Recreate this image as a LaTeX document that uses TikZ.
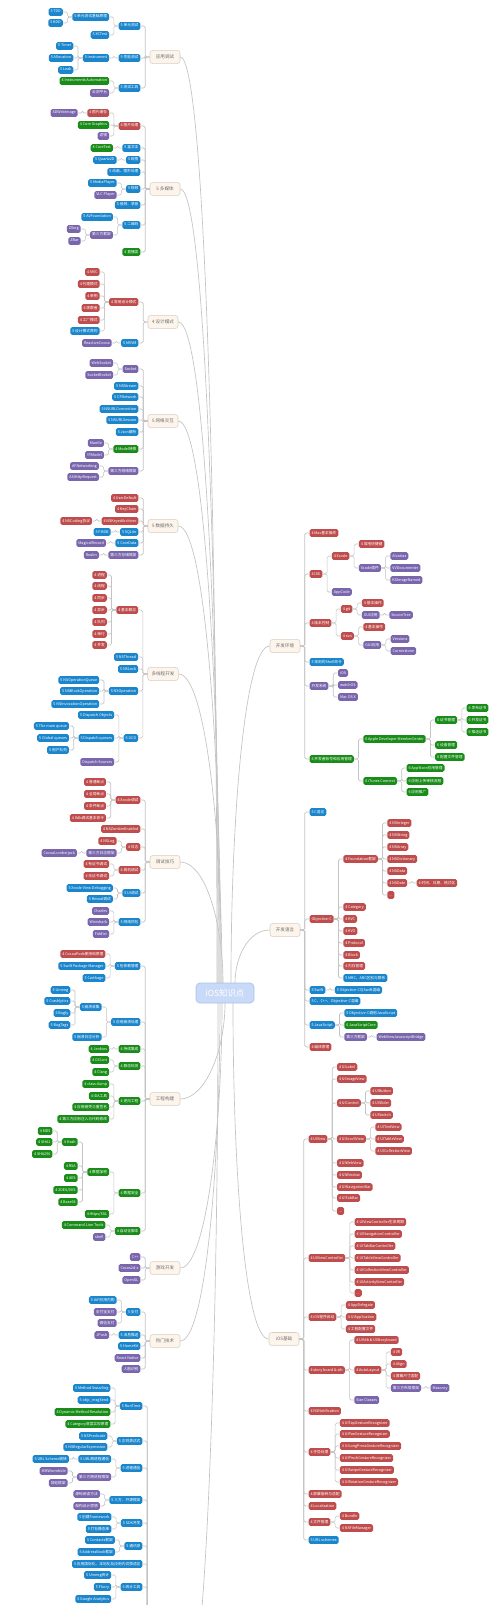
\documentclass[tikz,border=0pt]{standalone}
\usepackage{fontspec}
\setmainfont{Noto Sans CJK SC}
\definecolor{cB}{HTML}{1C86CC}
\definecolor{cR}{HTML}{BF4D4D}
\definecolor{cG}{HTML}{1A8C1A}
\definecolor{cP}{HTML}{7A66AD}
\definecolor{cBei}{HTML}{FDF5EC}
\definecolor{cBeiD}{HTML}{D9CFC4}
\definecolor{cTxt}{HTML}{6B6B6B}
\definecolor{cCtr}{HTML}{C8DAF8}
\definecolor{cCtrD}{HTML}{A9C3EE}
\definecolor{cLine}{HTML}{C4C4C4}
\tikzset{
 bx/.style={rectangle, rounded corners=1.2pt, inner xsep=1.5pt, inner ysep=1.5pt, text height=2.1pt, text depth=0.6pt, font=\fontsize{2.8}{3}\selectfont, text=white},
 B/.style={bx, fill=cB},
 R/.style={bx, fill=cR},
 G/.style={bx, fill=cG},
 P/.style={bx, fill=cP},
 lone/.style={rectangle, rounded corners=2pt, fill=cBei, draw=cBeiD, line width=0.4pt, text=cTxt, font=\fontsize{3.4}{4}\selectfont, minimum width=22.5pt, minimum height=8.8pt, inner xsep=3pt},
 ctr/.style={rectangle, rounded corners=3pt, fill=cCtr, draw=cCtrD, line width=0.5pt, text=white, font=\fontsize{6.3}{7}\selectfont, minimum width=43.5pt, minimum height=15pt},
 conn/.style={draw=cLine, line width=0.45pt, rounded corners=1.2pt},
 mc/.style={draw=cLine, line width=0.5pt},
 ghost/.style={rectangle, inner sep=0pt, minimum size=0pt}
}
\newcommand\Lk[5]{%
 \path (#3.west) ++(-9,0) coordinate (tmp);
 \node[#2,anchor=east] (#1) at (tmp |- 0,#4) {#5};
 \draw[conn] (#3.west) -- ++(-4.5,0) |- (#1.east);}
\newcommand\Rk[5]{%
 \path (#3.east) ++(9,0) coordinate (tmp);
 \node[#2,anchor=west] (#1) at (tmp |- 0,#4) {#5};
 \draw[conn] (#3.east) -- ++(4.5,0) |- (#1.west);}
\begin{document}
\begin{tikzpicture}[x=0.75pt,y=-0.75pt]
\useasboundingbox (0,0) rectangle (500,1605);
\fill[white] (0,0) rectangle (500,1605);
\clip (0,0) rectangle (500,1605);

\node[ctr] (ctr) at (225,993) {iOS知识点};

% ---------- left level 1 ----------
\node[lone] (a) at (165,57) {应用调试};
\node[lone] (b) at (165,189) {5 多媒体};
\node[lone] (c) at (163,322) {4 设计模式};
\node[lone] (d) at (163,421) {5 网络交互};
\node[lone] (e) at (163,526) {5 数据持久};
\node[lone] (f) at (163,674) {多线程开发};
\node[lone] (g) at (165,862) {调试技巧};
\node[lone] (h) at (165,1099) {工程构建};
\node[lone] (i) at (165,1268) {游戏开发};
\node[lone] (j) at (165,1341) {热门技术};
\node[ghost] (k) at (152,1720) {};
\coordinate (kE) at (182,1720);

% ---------- right level 1 ----------
\node[lone] (r) at (285,646) {开发环境};
\node[lone] (s) at (285,930) {开发语言};
\node[lone] (t) at (284,1339) {iOS基础};

% ---------- main curves ----------
\draw[mc] (217,983) .. controls (217,520) and (205,57) .. (a.east);
\draw[mc] (218,983) .. controls (218,586) and (205,189) .. (b.east);
\draw[mc] (219,983) .. controls (219,652) and (205,322) .. (c.east);
\draw[mc] (220,983) .. controls (220,702) and (205,421) .. (d.east);
\draw[mc] (221,983) .. controls (221,754) and (205,526) .. (e.east);
\draw[mc] (222,983) .. controls (222,828) and (205,674) .. (f.east);
\draw[mc] (223,983) .. controls (223,922) and (205,862) .. (g.east);
\draw[mc] (225,1003) .. controls (225,1051) and (205,1099) .. (h.east);
\draw[mc] (222,1003) .. controls (222,1135) and (205,1268) .. (i.east);
\draw[mc] (220,1003) .. controls (220,1172) and (205,1341) .. (j.east);
\draw[mc] (218,1003) .. controls (218,1360) and (205,1720) .. (kE);
\draw[mc] (231,983) .. controls (231,814) and (245,646) .. (r.west);
\draw[mc] (235,983) .. controls (235,956) and (249,930) .. (s.west);
\draw[mc] (233,1003) .. controls (233,1171) and (245,1339) .. (t.west);

% ---------- 应用调试 ----------
\Lk{a1}{B}{a}{26}{5 单元测试}
\Lk{a11}{B}{a1}{17}{5 单元测试基础原理}
\Lk{a111}{B}{a11}{12}{5 TDD}
\Lk{a112}{B}{a11}{23}{5 BDD}
\Lk{a12}{B}{a1}{35}{5 XCTest}
\Lk{a2}{B}{a}{58}{5 性能测试}
\Lk{a21}{B}{a2}{58}{5 Instrument}
\Lk{a211}{B}{a21}{46}{5 Timer}
\Lk{a212}{B}{a21}{58}{5 Allocation}
\Lk{a213}{B}{a21}{70}{5 Leak}
\Lk{a3}{B}{a}{88}{5 测试工具}
\Lk{a31}{G}{a3}{81}{4 Instruments Automation}
\Lk{a32}{P}{a3}{93}{云测平台}

% ---------- 多媒体 ----------
\Lk{b1}{R}{b}{126}{4 图片处理}
\Lk{b11}{R}{b1}{113}{4 图片缓存}
\Lk{b111}{P}{b11}{113}{SDWebImage}
\Lk{b12}{G}{b1}{125}{4 Core Graphics}
\Lk{b13}{P}{b1}{136}{滤镜}
\Lk{b2}{B}{b}{148}{5 富文本}
\Lk{b21}{G}{b2}{148}{4 CoreText}
\Lk{b3}{B}{b}{160}{5 绘图}
\Lk{b31}{B}{b3}{160}{5 Quartz2D}
\Lk{b4}{B}{b}{172}{5 动画、图形处理}
\Lk{b5}{B}{b}{189}{5 视频}
\Lk{b51}{B}{b5}{183}{5 MediaPlayer}
\Lk{b52}{P}{b5}{195}{VLC Player}
\Lk{b6}{B}{b}{205}{5 音频、录音}
\Lk{b7}{B}{b}{225}{5 二维码}
\Lk{b71}{B}{b7}{217}{5 AVFoundation}
\Lk{b72}{P}{b7}{235}{第三方框架}
\Lk{b721}{P}{b72}{229}{ZXing}
\Lk{b722}{P}{b72}{241}{ZBar}
\Lk{b8}{G}{b}{252}{4 直播类}

% ---------- 设计模式 ----------
\Lk{c1}{R}{c}{302}{4 常用设计模式}
\Lk{c11}{R}{c1}{272}{4 MVC}
\Lk{c12}{R}{c1}{284}{4 代理模式}
\Lk{c13}{R}{c1}{296}{4 单例}
\Lk{c14}{R}{c1}{308}{4 观察者}
\Lk{c15}{R}{c1}{320}{4 工厂模式}
\Lk{c16}{B}{c1}{331}{5 设计模式原则}
\Lk{c2}{B}{c}{343}{5 MVVM}
\Lk{c21}{P}{c2}{343}{ReactiveCocoa}

% ---------- 网络交互 ----------
\Lk{d1}{P}{d}{369}{Socket}
\Lk{d11}{P}{d1}{363}{WebSocket}
\Lk{d12}{P}{d1}{375}{SocketRocket}
\Lk{d2}{B}{d}{386}{5 NSStream}
\Lk{d3}{B}{d}{397}{5 CFNetwork}
\Lk{d4}{B}{d}{409}{5 NSURLConnection}
\Lk{d5}{B}{d}{420}{5 NSURLSession}
\Lk{d6}{B}{d}{432}{5 Json解析}
\Lk{d7}{G}{d}{449}{4 Model转换}
\Lk{d71}{P}{d7}{443}{Mantle}
\Lk{d72}{P}{d7}{455}{YYModel}
\Lk{d8}{P}{d}{471}{第三方网络框架}
\Lk{d81}{P}{d8}{466}{AFNetworking}
\Lk{d82}{P}{d8}{477}{ASIHttpRequest}

% ---------- 数据持久 ----------
\Lk{e1}{R}{e}{498}{4 UserDefault}
\Lk{e2}{R}{e}{509}{4 KeyChain}
\Lk{e3}{R}{e}{521}{4 NSKeyedArchiver}
\Lk{e31}{R}{e3}{521}{4 NSCoding协议}
\Lk{e4}{B}{e}{532}{5 SQLite}
\Lk{e41}{B}{e4}{532}{5 FMDB}
\Lk{e5}{B}{e}{543}{5 CoreData}
\Lk{e51}{P}{e5}{543}{MagicalRecord}
\Lk{e6}{P}{e}{555}{第三方存储框架}
\Lk{e61}{P}{e6}{555}{Realm}

% ---------- 多线程开发 ----------
\Lk{f1}{R}{f}{610}{4 基本概念}
\Lk{f11}{R}{f1}{575}{4 进程}
\Lk{f12}{R}{f1}{586}{4 线程}
\Lk{f13}{R}{f1}{598}{4 同步}
\Lk{f14}{R}{f1}{610}{4 异步}
\Lk{f15}{R}{f1}{622}{4 队列}
\Lk{f16}{R}{f1}{634}{4 串行}
\Lk{f17}{R}{f1}{645}{4 并发}
\Lk{f2}{B}{f}{657}{5 NSThread}
\Lk{f3}{B}{f}{669}{5 NSLock}
\Lk{f4}{B}{f}{691}{5 NSOperation}
\Lk{f41}{B}{f4}{680}{5 NSOperationQueue}
\Lk{f42}{B}{f4}{691}{5 NSBlockOperation}
\Lk{f43}{B}{f4}{704}{5 NSInvocationOperation}
\Lk{f5}{B}{f}{738}{5 GCD}
\Lk{f51}{B}{f5}{715}{5 Dispatch Objects}
\Lk{f52}{B}{f5}{738}{5 Dispatch queues}
\Lk{f521}{B}{f52}{726}{5 The main queue}
\Lk{f522}{B}{f52}{738}{5 Global queues}
\Lk{f523}{B}{f52}{750}{5 用户队列}
\Lk{f53}{P}{f5}{762}{Dispatch Sources}

% ---------- 调试技巧 ----------
\Lk{g1}{R}{g}{800}{4 Xcode调试}
\Lk{g11}{R}{g1}{782}{4 普通断点}
\Lk{g12}{R}{g1}{794}{4 全局断点}
\Lk{g13}{R}{g1}{806}{4 条件断点}
\Lk{g14}{R}{g1}{818}{4 lldb调试基本命令}
\Lk{g2}{R}{g}{829}{4 NSZombieEnabled}
\Lk{g3}{R}{g}{847}{4 日志}
\Lk{g31}{R}{g3}{841}{4 NSLog}
\Lk{g32}{P}{g3}{853}{第三方日志框架}
\Lk{g321}{P}{g32}{853}{CocoaLumberjack}
\Lk{g4}{R}{g}{870}{4 真机调试}
\Lk{g41}{R}{g4}{864}{4 有证书调试}
\Lk{g42}{R}{g4}{876}{4 无证书调试}
\Lk{g5}{B}{g}{893}{5 UI调试}
\Lk{g51}{B}{g5}{888}{5 Xcode View Debugging}
\Lk{g52}{B}{g5}{899}{5 Reveal调试}
\Lk{g6}{B}{g}{922}{5 网络抓包}
\Lk{g61}{P}{g6}{911}{Charles}
\Lk{g62}{P}{g6}{922}{Wireshark}
\Lk{g63}{P}{g6}{934}{Fiddler}

% ---------- 工程构建 ----------
\Lk{h1}{B}{h}{966}{5 包依赖管理}
\Lk{h11}{R}{h1}{954}{4 CocoaPods使用和原理}
\Lk{h12}{B}{h1}{966}{5 Swift Package Manager}
\Lk{h13}{B}{h1}{978}{5 Carthage}
\Lk{h2}{B}{h}{1022}{5 应用崩溃处理}
\Lk{h21}{B}{h2}{1007}{5 崩溃收集}
\Lk{h211}{B}{h21}{990}{5 Umeng}
\Lk{h212}{B}{h21}{1001}{5 Crashlytics}
\Lk{h213}{B}{h21}{1013}{5 Bugly}
\Lk{h214}{B}{h21}{1025}{5 BugTags}
\Lk{h22}{B}{h2}{1037}{5 崩溃日志分析}
\Lk{h3}{G}{h}{1049}{4 持续集成}
\Lk{h31}{G}{h3}{1049}{4 Jenkins}
\Lk{h4}{G}{h}{1066}{4 静态检测}
\Lk{h41}{G}{h4}{1060}{4 OCLint}
\Lk{h42}{G}{h4}{1072}{4 Clang}
\Lk{h5}{G}{h}{1101}{4 逆向工程}
\Lk{h51}{G}{h5}{1084}{4 class dump}
\Lk{h52}{G}{h5}{1096}{4 IDA工具}
\Lk{h53}{G}{h5}{1107}{4 应用砸壳与重签名}
\Lk{h54}{G}{h5}{1119}{4 第三方应用注入与代码修改}
\Lk{h6}{G}{h}{1193}{4 数据安全}
\Lk{h61}{G}{h6}{1172}{4 数据加密}
\Lk{h611}{G}{h61}{1142}{4 Hash}
\Lk{h6111}{G}{h611}{1131}{4 MD5}
\Lk{h6112}{G}{h611}{1142}{4 SHA1}
\Lk{h6113}{G}{h611}{1154}{4 SHA256}
\Lk{h612}{G}{h61}{1166}{4 RSA}
\Lk{h613}{G}{h61}{1178}{4 AES}
\Lk{h614}{G}{h61}{1190}{4 3DES/DES}
\Lk{h615}{G}{h61}{1202}{4 Base64}
\Lk{h62}{G}{h6}{1214}{4 Https/SSL}
\Lk{h7}{G}{h}{1231}{4 自动化脚本}
\Lk{h71}{G}{h7}{1225}{4 Command Line Tools}
\Lk{h72}{P}{h7}{1237}{shell}

% ---------- 游戏开发 ----------
\Lk{i1}{P}{i}{1257}{C++}
\Lk{i2}{P}{i}{1268}{Cocos2d-x}
\Lk{i3}{P}{i}{1280}{OpenGL}

% ---------- 热门技术 ----------
\Lk{j1}{B}{j}{1312}{5 支付}
\Lk{j11}{B}{j1}{1300}{5 IAP应用内购}
\Lk{j12}{P}{j1}{1312}{支付宝支付}
\Lk{j13}{P}{j1}{1323}{微信支付}
\Lk{j2}{B}{j}{1335}{5 消息推送}
\Lk{j21}{P}{j2}{1335}{JPush}
\Lk{j3}{B}{j}{1346}{5 HomeKit}
\Lk{j4}{P}{j}{1358}{React Native}
\Lk{j5}{P}{j}{1369}{人脸识别}

% ---------- bottom group ----------
\Lk{k1}{B}{k}{1406}{5 RunTime}
\Lk{k11}{B}{k1}{1388}{5 Method Swizzling}
\Lk{k12}{B}{k1}{1400}{5 objc\_msgSend}
\Lk{k13}{G}{k1}{1412}{4 Dynamic Method Resolution}
\Lk{k14}{G}{k1}{1424}{4 Category底层实现原理}
\Lk{k2}{B}{k}{1441}{5 正则表达式}
\Lk{k21}{B}{k2}{1436}{5 NSPredicate}
\Lk{k22}{B}{k2}{1447}{5 NSRegularExpression}
\Lk{k3}{B}{k}{1468}{5 进程通信}
\Lk{k31}{B}{k3}{1459}{5 URL跨进程通信}
\Lk{k311}{B}{k31}{1459}{5 URL Scheme跳转}
\Lk{k32}{P}{k3}{1477}{第三方跨进程框架}
\Lk{k321}{P}{k32}{1471}{MMWormhole}
\Lk{k322}{P}{k32}{1483}{其他框架}
\Lk{k4}{B}{k}{1500}{5 三方、开源框架}
\Lk{k41}{P}{k4}{1494}{源码阅读方法}
\Lk{k42}{P}{k4}{1506}{架构设计思想}
\Lk{k5}{B}{k}{1523}{5 SDK开发}
\Lk{k51}{B}{k5}{1517}{5 创建Framework}
\Lk{k52}{B}{k5}{1529}{5 打包静态库}
\Lk{k6}{B}{k}{1546}{5 通讯录}
\Lk{k61}{B}{k6}{1540}{5 Contacts框架}
\Lk{k62}{B}{k6}{1552}{5 AddressBook框架}
\Lk{k7}{B}{k}{1564}{5 应用国际化、本地化及应用内切换语言}
\Lk{k8}{B}{k}{1587}{5 统计工具}
\Lk{k81}{B}{k8}{1575}{5 Umeng统计}
\Lk{k82}{B}{k8}{1587}{5 Flurry}
\Lk{k83}{B}{k8}{1599}{5 Google Analytics}

% ---------- 开发环境 ----------
\Rk{r1}{R}{r}{533}{4 Mac基本操作}
\Rk{r2}{R}{r}{574}{4 IDE}
\Rk{r21}{R}{r2}{556}{4 Xcode}
\Rk{r211}{R}{r21}{544}{4 常用快捷键}
\Rk{r212}{P}{r21}{568}{Xcode插件}
\Rk{r2121}{P}{r212}{556}{Alcatraz}
\Rk{r2122}{P}{r212}{568}{VVDocumenter}
\Rk{r2123}{P}{r212}{580}{KSImageNamed}
\Rk{r22}{P}{r2}{592}{AppCode}
\Rk{r3}{R}{r}{623}{4 版本控制}
\Rk{r31}{R}{r3}{609}{4 git}
\Rk{r311}{R}{r31}{603}{4 基本操作}
\Rk{r312}{P}{r31}{615}{GUI应用}
\Rk{r3121}{P}{r312}{615}{SourceTree}
\Rk{r32}{R}{r3}{636}{4 svn}
\Rk{r321}{R}{r32}{627}{4 基本操作}
\Rk{r322}{P}{r32}{645}{GUI应用}
\Rk{r3221}{P}{r322}{639}{Versions}
\Rk{r3222}{P}{r322}{651}{Cornerstone}
\Rk{r4}{B}{r}{662}{5 常用的Shell命令}
\Rk{r5}{P}{r}{686}{开发系统}
\Rk{r51}{P}{r5}{673}{iOS}
\Rk{r52}{P}{r5}{685}{watchOS}
\Rk{r53}{P}{r5}{697}{Mac OS X}
\Rk{r6}{G}{r}{759}{6 开发者账号和应用管理}
\Rk{r61}{G}{r6}{739}{6 Apple Developer MemberCenter}
\Rk{r611}{G}{r61}{720}{6 证书管理}
\Rk{r6111}{G}{r611}{708}{6 发布证书}
\Rk{r6112}{G}{r611}{720}{6 开发证书}
\Rk{r6113}{G}{r611}{732}{6 推送证书}
\Rk{r612}{G}{r61}{745}{6 设备管理}
\Rk{r613}{G}{r61}{757}{6 配置文件管理}
\Rk{r62}{G}{r6}{781}{6 iTunes Connect}
\Rk{r621}{G}{r62}{768}{6 AppStore应用管理}
\Rk{r622}{G}{r62}{781}{6 应用上传审核流程}
\Rk{r623}{G}{r62}{792}{6 应用推广}

% ---------- 开发语言 ----------
\Rk{s1}{B}{s}{812}{5 C语言}
\Rk{s2}{R}{s}{919}{Objective-C}
\Rk{s21}{R}{s2}{859}{4 Foundation框架}
\Rk{s211}{R}{s21}{823}{4 NSInteger}
\Rk{s212}{R}{s21}{835}{4 NSString}
\Rk{s213}{R}{s21}{847}{4 NSArray}
\Rk{s214}{R}{s21}{859}{4 NSDictionary}
\Rk{s215}{R}{s21}{871}{4 NSData}
\Rk{s216}{R}{s21}{883}{4 NSDate}
\Rk{s2161}{R}{s216}{883}{4 时间、日期、格式化}
\Rk{s217}{R}{s21}{895}{...}
\Rk{s22}{R}{s2}{907}{4 Category}
\Rk{s23}{R}{s2}{919}{4 KVC}
\Rk{s24}{R}{s2}{931}{4 KVO}
\Rk{s25}{R}{s2}{943}{4 Protocol}
\Rk{s26}{R}{s2}{955}{4 Block}
\Rk{s27}{R}{s2}{966}{4 内存管理}
\Rk{s28}{B}{s2}{978}{5 MRC、ARC区别与联系}
\Rk{s3}{B}{s}{990}{5 Swift}
\Rk{s31}{B}{s3}{990}{5 Objective-C与Swift混编}
\Rk{s4}{B}{s}{1001}{5 C、C++、Objective-C混编}
\Rk{s5}{B}{s}{1025}{5 JavaScript}
\Rk{s51}{B}{s5}{1013}{5 Objective-C调用JavaScript}
\Rk{s52}{G}{s5}{1025}{6 JavaScriptCore}
\Rk{s53}{P}{s5}{1037}{第三方框架}
\Rk{s531}{P}{s53}{1037}{WebViewJavascriptBridge}
\Rk{s6}{R}{s}{1047}{4 编译原理}

% ---------- iOS基础 ----------
\Rk{t1}{R}{t}{1139}{4 UIView}
\Rk{t11}{R}{t1}{1067}{4 UILabel}
\Rk{t12}{R}{t1}{1079}{4 UIImageView}
\Rk{t13}{R}{t1}{1103}{4 UIControl}
\Rk{t131}{R}{t13}{1091}{4 UIButton}
\Rk{t132}{R}{t13}{1103}{4 UISlider}
\Rk{t133}{R}{t13}{1115}{4 UISwitch}
\Rk{t14}{R}{t1}{1139}{4 UIScrollView}
\Rk{t141}{R}{t14}{1127}{4 UITextView}
\Rk{t142}{R}{t14}{1139}{4 UITableView}
\Rk{t143}{R}{t14}{1151}{4 UICollectionView}
\Rk{t15}{R}{t1}{1163}{4 UIWebView}
\Rk{t16}{R}{t1}{1175}{4 UIWindow}
\Rk{t17}{R}{t1}{1187}{4 UINavigationBar}
\Rk{t18}{R}{t1}{1198}{4 UITabBar}
\Rk{t19}{R}{t1}{1211}{...}
\Rk{t2}{R}{t}{1258}{4 UIViewController}
\Rk{t21}{R}{t2}{1222}{4 UIViewController生命周期}
\Rk{t22}{R}{t2}{1234}{4 UINavigationController}
\Rk{t23}{R}{t2}{1246}{4 UITabBarController}
\Rk{t24}{R}{t2}{1258}{4 UITableViewController}
\Rk{t25}{R}{t2}{1270}{4 UICollectionViewController}
\Rk{t26}{R}{t2}{1282}{4 UIActivityViewController}
\Rk{t27}{R}{t2}{1293}{...}
\Rk{t3}{R}{t}{1317}{4 iOS程序启动}
\Rk{t31}{R}{t3}{1305}{4 AppDelegate}
\Rk{t32}{R}{t3}{1317}{4 UIApplication}
\Rk{t33}{R}{t3}{1329}{4 工程配置文件}
\Rk{t4}{R}{t}{1370}{4 story board \& xib}
\Rk{t41}{R}{t4}{1340}{4 UINib \& UIStoryboard}
\Rk{t42}{R}{t4}{1370}{4 AutoLayout}
\Rk{t421}{R}{t42}{1352}{4 Vfl}
\Rk{t422}{R}{t42}{1364}{4 Align}
\Rk{t423}{R}{t42}{1376}{4 屏幕尺寸适配}
\Rk{t424}{P}{t42}{1388}{第三方布局框架}
\Rk{t4241}{P}{t424}{1388}{Masonry}
\Rk{t43}{P}{t4}{1400}{Size Classes}
\Rk{t5}{R}{t}{1411}{4 NSNotification}
\Rk{t6}{R}{t}{1452}{4 手势处理}
\Rk{t61}{R}{t6}{1423}{4 UITapGestureRecognizer}
\Rk{t62}{R}{t6}{1434}{4 UIPanGestureRecognizer}
\Rk{t63}{R}{t6}{1446}{4 UILongPressGestureRecognizer}
\Rk{t64}{R}{t6}{1458}{4 UIPinchGestureRecognizer}
\Rk{t65}{R}{t6}{1470}{4 UISwipeGestureRecognizer}
\Rk{t66}{R}{t6}{1482}{4 UIRotationGestureRecognizer}
\Rk{t7}{R}{t}{1494}{4 屏幕旋转与适配}
\Rk{t8}{R}{t}{1506}{4 Localization}
\Rk{t9}{R}{t}{1522}{4 文件管理}
\Rk{t91}{R}{t9}{1516}{4 Bundle}
\Rk{t92}{R}{t9}{1528}{4 NSFileManager}
\Rk{t10}{B}{t}{1540}{5 URL schemes}
\end{tikzpicture}
\end{document}
